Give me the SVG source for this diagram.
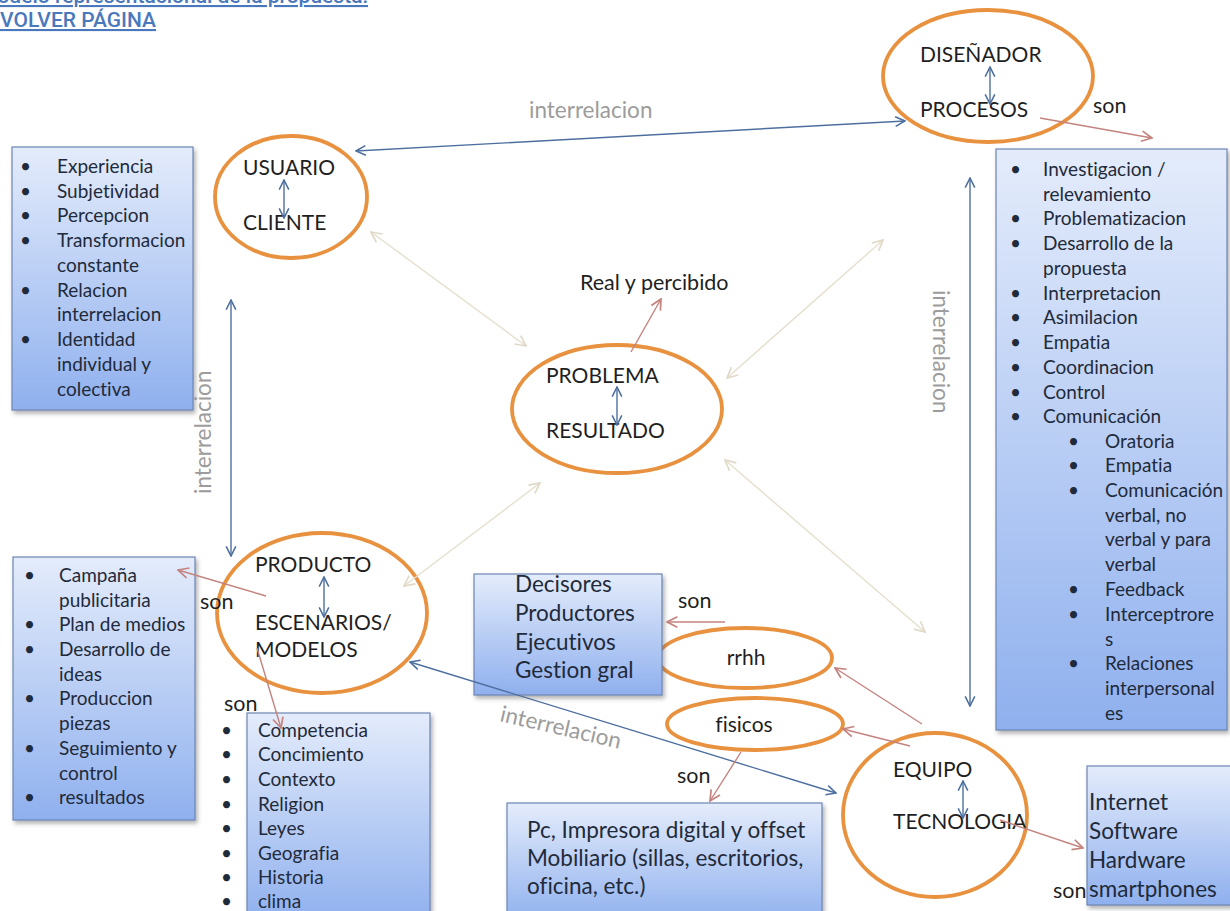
<svg xmlns="http://www.w3.org/2000/svg" width="1230" height="911" viewBox="0 0 1230 911">
  <style>
    text { font-variant-ligatures: none; }
    .hdr { font-family: Roboto, "Liberation Sans", sans-serif; font-size: 21px; font-weight: 500; fill: #4a78bd; text-decoration: underline; }
    .lbl { font-family: Lato, "Open Sans", "Liberation Sans", sans-serif; font-size: 21px; fill: #1f1f1f; }
    .son { font-family: Lato, "Open Sans", "Liberation Sans", sans-serif; font-size: 21.5px; fill: #1f1f1f; }
    .lst { font-family: Lato, "Open Sans", "Liberation Sans", sans-serif; font-size: 19px; fill: #1f2a3a; }
    .big { font-family: Lato, "Open Sans", "Liberation Sans", sans-serif; font-size: 22.5px; fill: #1f2a3a; }
    .rel { font-family: Lato, "Open Sans", "Liberation Sans", sans-serif; font-size: 22.5px; fill: #9c9c9c; }
    .ell { fill: #ffffff; stroke: #e8913f; stroke-width: 3.8; }
    .box { fill: url(#boxGrad); stroke: #6d86b5; stroke-width: 1.2; filter: url(#shadow); }
    .blue { fill: none; stroke: #4d6f9f; stroke-width: 1.4; marker-start: url(#hBlue); marker-end: url(#hBlue); }
    .pale { fill: none; stroke: #e6dfce; stroke-width: 1.4; marker-start: url(#hPale); marker-end: url(#hPale); }
    .pink { fill: none; stroke: #c4837f; stroke-width: 1.4; marker-end: url(#hPink); }
  </style>
  <defs>
    <linearGradient id="boxGrad" x1="0" y1="0" x2="0" y2="1">
      <stop offset="0" stop-color="#e4ecfb"/>
      <stop offset="1" stop-color="#8fb0ee"/>
    </linearGradient>
    <filter id="shadow" x="-10%" y="-10%" width="125%" height="125%">
      <feDropShadow dx="2" dy="3" stdDeviation="2" flood-color="#555" flood-opacity="0.45"/>
    </filter>
    <marker id="hBlue" viewBox="0 0 10 10" refX="9" refY="5" markerWidth="12" markerHeight="12" markerUnits="userSpaceOnUse" orient="auto-start-reverse">
      <path d="M1,1 L9,5 L1,9" fill="none" stroke="#4d6f9f" stroke-width="1.3"/>
    </marker>
    <marker id="hPale" viewBox="0 0 10 10" refX="9" refY="5" markerWidth="13" markerHeight="13" markerUnits="userSpaceOnUse" orient="auto-start-reverse">
      <path d="M1,1 L9,5 L1,9" fill="none" stroke="#e0d9c7" stroke-width="1.3"/>
    </marker>
    <marker id="hPink" viewBox="0 0 10 10" refX="9" refY="5" markerWidth="13" markerHeight="13" markerUnits="userSpaceOnUse" orient="auto">
      <path d="M1,1 L9,5 L1,9" fill="none" stroke="#c4837f" stroke-width="1.3"/>
    </marker>
  </defs>

  <rect width="1230" height="911" fill="#ffffff"/>

  <!-- page links -->
  <g id="header">
    <text class="hdr" x="368" y="3" text-anchor="end">Modelo representacional de la propuesta:</text>
    <text class="hdr" x="0" y="27">VOLVER PÁGINA</text>
  </g>

  <!-- USUARIO / CLIENTE -->
  <g id="usuario">
    <ellipse class="ell" cx="291" cy="197" rx="76" ry="61"/>
    <text class="lbl" x="243" y="175">USUARIO</text>
    <text class="lbl" x="243" y="230">CLIENTE</text>
    <line class="blue" x1="284" y1="180" x2="284" y2="218"/>
  </g>

  <!-- DISEÑADOR / PROCESOS -->
  <g id="disenador">
    <ellipse class="ell" cx="988" cy="76" rx="105" ry="66"/>
    <text class="lbl" x="920" y="62">DISEÑADOR</text>
    <text class="lbl" x="920" y="117">PROCESOS</text>
    <line class="blue" x1="990" y1="67" x2="990" y2="104"/>
  </g>

  <!-- PROBLEMA / RESULTADO -->
  <g id="problema">
    <ellipse class="ell" cx="617" cy="409" rx="105" ry="64"/>
    <text class="lbl" x="546" y="383">PROBLEMA</text>
    <text class="lbl" x="546" y="438">RESULTADO</text>
    <line class="blue" x1="617" y1="387" x2="617" y2="425"/>
  </g>

  <!-- PRODUCTO / ESCENARIOS -->
  <g id="producto">
    <ellipse class="ell" cx="322" cy="613" rx="105" ry="80"/>
    <text class="lbl" x="255" y="572">PRODUCTO</text>
    <text class="lbl" x="255" y="630">ESCENARIOS/</text>
    <text class="lbl" x="255" y="657">MODELOS</text>
    <line class="blue" x1="324" y1="577" x2="324" y2="617"/>
  </g>

  <!-- rrhh -->
  <g id="rrhh">
    <ellipse class="ell" cx="745" cy="658" rx="87" ry="30"/>
    <text class="lbl" x="746" y="665" text-anchor="middle">rrhh</text>
  </g>

  <!-- fisicos -->
  <g id="fisicos">
    <ellipse class="ell" cx="755" cy="724" rx="88" ry="26"/>
    <text class="lbl" x="744" y="732" text-anchor="middle">fisicos</text>
  </g>

  <!-- EQUIPO / TECNOLOGIA -->
  <g id="equipo">
    <ellipse class="ell" cx="935" cy="815" rx="92" ry="82"/>
    <text class="lbl" x="893" y="777">EQUIPO</text>
    <text class="lbl" x="893" y="829">TECNOLOGIA</text>
    <line class="blue" x1="963" y1="781" x2="963" y2="818"/>
  </g>

  <!-- user attributes -->
  <g id="lista-usuario">
    <rect class="box" x="12" y="147" width="181" height="263"/>
    <text class="lst">
      <tspan x="20" y="173">•</tspan><tspan x="57" y="173">Experiencia</tspan>
      <tspan x="20" y="198">•</tspan><tspan x="57" y="198">Subjetividad</tspan>
      <tspan x="20" y="222">•</tspan><tspan x="57" y="222">Percepcion</tspan>
      <tspan x="20" y="247">•</tspan><tspan x="57" y="247">Transformacion</tspan>
      <tspan x="57" y="272">constante</tspan>
      <tspan x="20" y="297">•</tspan><tspan x="57" y="297">Relacion</tspan>
      <tspan x="57" y="321">interrelacion</tspan>
      <tspan x="20" y="346">•</tspan><tspan x="57" y="346">Identidad</tspan>
      <tspan x="57" y="371">individual y</tspan>
      <tspan x="57" y="396">colectiva</tspan>
    </text>
  </g>

  <!-- designer processes -->
  <g id="lista-procesos">
    <rect class="box" x="996" y="149" width="231" height="581"/>
    <text class="lst">
      <tspan x="1010" y="176">•</tspan><tspan x="1043" y="176">Investigacion /</tspan>
      <tspan x="1043" y="201">relevamiento</tspan>
      <tspan x="1010" y="225">•</tspan><tspan x="1043" y="225">Problematizacion</tspan>
      <tspan x="1010" y="250">•</tspan><tspan x="1043" y="250">Desarrollo de la</tspan>
      <tspan x="1043" y="275">propuesta</tspan>
      <tspan x="1010" y="300">•</tspan><tspan x="1043" y="300">Interpretacion</tspan>
      <tspan x="1010" y="324">•</tspan><tspan x="1043" y="324">Asimilacion</tspan>
      <tspan x="1010" y="349">•</tspan><tspan x="1043" y="349">Empatia</tspan>
      <tspan x="1010" y="374">•</tspan><tspan x="1043" y="374">Coordinacion</tspan>
      <tspan x="1010" y="399">•</tspan><tspan x="1043" y="399">Control</tspan>
      <tspan x="1010" y="423">•</tspan><tspan x="1043" y="423">Comunicación</tspan>
      <tspan x="1068" y="448">•</tspan><tspan x="1105" y="448">Oratoria</tspan>
      <tspan x="1068" y="472">•</tspan><tspan x="1105" y="472">Empatia</tspan>
      <tspan x="1068" y="497">•</tspan><tspan x="1105" y="497">Comunicación</tspan>
      <tspan x="1105" y="522">verbal, no</tspan>
      <tspan x="1105" y="546">verbal y para</tspan>
      <tspan x="1105" y="571">verbal</tspan>
      <tspan x="1068" y="596">•</tspan><tspan x="1105" y="596">Feedback</tspan>
      <tspan x="1068" y="621">•</tspan><tspan x="1105" y="621">Interceptrore</tspan>
      <tspan x="1105" y="646">s</tspan>
      <tspan x="1068" y="670">•</tspan><tspan x="1105" y="670">Relaciones</tspan>
      <tspan x="1105" y="695">interpersonal</tspan>
      <tspan x="1105" y="720">es</tspan>
    </text>
  </g>

  <!-- product outputs -->
  <g id="lista-producto">
    <rect class="box" x="13" y="557" width="182" height="263"/>
    <text class="lst">
      <tspan x="24" y="582">•</tspan><tspan x="59" y="582">Campaña</tspan>
      <tspan x="59" y="607">publicitaria</tspan>
      <tspan x="24" y="631">•</tspan><tspan x="59" y="631">Plan de medios</tspan>
      <tspan x="24" y="656">•</tspan><tspan x="59" y="656">Desarrollo de</tspan>
      <tspan x="59" y="681">ideas</tspan>
      <tspan x="24" y="705">•</tspan><tspan x="59" y="705">Produccion</tspan>
      <tspan x="59" y="730">piezas</tspan>
      <tspan x="24" y="755">•</tspan><tspan x="59" y="755">Seguimiento y</tspan>
      <tspan x="59" y="780">control</tspan>
      <tspan x="24" y="804">•</tspan><tspan x="59" y="804">resultados</tspan>
    </text>
  </g>

  <!-- scenario factors -->
  <g id="lista-escenarios">
    <rect class="box" x="247" y="713" width="183" height="210"/>
    <text class="lst">
      <tspan x="221" y="737">•</tspan><tspan x="258" y="737">Competencia</tspan>
      <tspan x="221" y="761">•</tspan><tspan x="258" y="761">Concimiento</tspan>
      <tspan x="221" y="786">•</tspan><tspan x="258" y="786">Contexto</tspan>
      <tspan x="221" y="811">•</tspan><tspan x="258" y="811">Religion</tspan>
      <tspan x="221" y="835">•</tspan><tspan x="258" y="835">Leyes</tspan>
      <tspan x="221" y="860">•</tspan><tspan x="258" y="860">Geografia</tspan>
      <tspan x="221" y="884">•</tspan><tspan x="258" y="884">Historia</tspan>
      <tspan x="221" y="908">•</tspan><tspan x="258" y="908">clima</tspan>
    </text>
  </g>

  <!-- human resources -->
  <g id="lista-rrhh">
    <rect class="box" x="474" y="574" width="188" height="121"/>
    <text class="big">
      <tspan x="515" y="592">Decisores</tspan>
      <tspan x="515" y="621">Productores</tspan>
      <tspan x="515" y="650">Ejecutivos</tspan>
      <tspan x="515" y="678">Gestion gral</tspan>
    </text>
  </g>

  <!-- physical resources -->
  <g id="lista-fisicos">
    <rect class="box" x="507" y="803" width="315" height="120"/>
    <text class="big">
      <tspan x="527" y="838">Pc, Impresora digital y offset</tspan>
      <tspan x="527" y="866">Mobiliario (sillas, escritorios,</tspan>
      <tspan x="527" y="894">oficina, etc.)</tspan>
    </text>
  </g>

  <!-- technology -->
  <g id="lista-tecnologia">
    <rect class="box" x="1087" y="766" width="145" height="139"/>
    <text class="big">
      <tspan x="1089" y="810">Internet</tspan>
      <tspan x="1089" y="839">Software</tspan>
      <tspan x="1089" y="868">Hardware</tspan>
      <tspan x="1089" y="897">smartphones</tspan>
    </text>
  </g>

  <!-- connectors, drawn last so they sit on top of nodes and boxes -->
  <g id="connectors">
    <!-- blue interrelations -->
    <line class="blue" x1="356" y1="151" x2="905" y2="121"/>
    <line class="blue" x1="231" y1="300" x2="231" y2="556"/>
    <line class="blue" x1="970" y1="178" x2="970" y2="706"/>
    <line class="blue" x1="410" y1="662" x2="836" y2="793"/>
    <!-- pale diagonals round the central node -->
    <line class="pale" x1="371" y1="232" x2="526" y2="346"/>
    <line class="pale" x1="883" y1="240" x2="727" y2="378"/>
    <line class="pale" x1="540" y1="483" x2="404" y2="586"/>
    <line class="pale" x1="725" y1="460" x2="925" y2="632"/>
    <!-- "son" links -->
    <line class="pink" x1="1040" y1="118" x2="1152" y2="138"/>
    <line class="pink" x1="631" y1="352" x2="661" y2="299"/>
    <line class="pink" x1="266" y1="596" x2="178" y2="570"/>
    <line class="pink" x1="257" y1="648" x2="281" y2="728"/>
    <line class="pink" x1="725" y1="622" x2="667" y2="622"/>
    <line class="pink" x1="922" y1="724" x2="835" y2="668"/>
    <line class="pink" x1="910" y1="746" x2="843" y2="729"/>
    <line class="pink" x1="741" y1="752" x2="710" y2="801"/>
    <line class="pink" x1="1000" y1="820" x2="1083" y2="848"/>
    <!-- relation labels -->
    <text class="rel" x="529" y="118">interrelacion</text>
    <text class="rel" transform="translate(211,494) rotate(-90)">interrelacion</text>
    <text class="rel" transform="translate(933,290) rotate(90)">interrelacion</text>
    <text class="rel" transform="translate(499,721) rotate(13)">interrelacion</text>
    <text class="son" x="1093" y="113">son</text>
    <text class="son" x="200" y="609">son</text>
    <text class="son" x="678" y="608">son</text>
    <text class="son" x="677" y="783">son</text>
    <text class="son" x="224" y="711">son</text>
    <text class="son" x="1053" y="898">son</text>
    <text class="son" x="580" y="290">Real y percibido</text>
  </g>
</svg>
